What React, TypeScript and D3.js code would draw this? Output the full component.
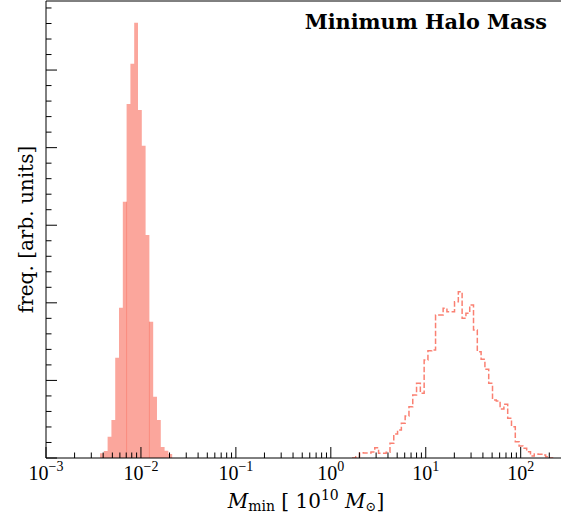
import React from "react";
import * as d3 from "d3";

const W = 561;
const H = 514;

// Narrow (filled) distribution: bin edges in units of 10^10 Msun and frequencies
const filledEdges = [
  0.003707, 0.004064, 0.004457, 0.004887, 0.005358, 0.005875, 0.006442, 0.007063,
  0.007745, 0.008492, 0.009311, 0.010209, 0.011194, 0.012274, 0.013458, 0.014757,
  0.016181, 0.017742, 0.019454, 0.02133,
];
const filledFreq = [
  0.3, 0.45, 1.37, 2.45, 6.46, 9.68, 16.51, 22.81, 25.41, 28.05, 22.42, 20.12, 14.37,
  8.78, 3.95, 2.45, 0.71, 0.47, 0.26,
];

// Broad (dashed step) distribution
const dashedEdges = [
  1.671, 1.832, 2.009, 2.203, 2.415, 2.649, 2.904, 3.184, 3.491, 3.828, 4.198, 4.603,
  5.047, 5.534, 6.067, 6.653, 7.295, 7.998, 8.77, 9.616, 10.54, 11.56, 12.68, 13.9,
  15.24, 16.71, 18.32, 20.09, 22.03, 24.15, 26.49, 29.04, 31.84, 34.91, 38.28, 41.98,
  46.03, 50.47, 55.34, 60.67, 66.53, 72.95, 79.98, 87.7, 96.16, 105.4, 115.6, 126.8,
  139.0, 152.4, 167.1, 183.2, 200.9, 220.3,
];
const dashedFreq = [
  0, 0.08, 0.34, 0.32, 0.32, 0.39, 0.66, 0.3, 0.3, 0.37, 0.95, 1.55, 1.8, 2.24, 2.71,
  3.31, 4.06, 4.81, 4.17, 6.31, 6.91, 6.96, 9.21, 9.21, 9.65, 9.43, 9.43, 10.07, 10.72,
  9.0, 9.32, 9.86, 8.25, 6.85, 6.36, 5.72, 4.81, 3.74, 3.67, 3.16, 3.46, 2.56, 2.02,
  1.05, 0.77, 0.63, 0.41, 0.13, 0.26, 0.24, 0.19, 0.08, 0,
];

// Axes
const xDomain = [1e-3, 3e2];
const yDomain = [0, 29.45];
const xMajorTicks = [1e-3, 1e-2, 1e-1, 1e0, 1e1, 1e2];
const xTickExponents = ["\u22123", "\u22122", "\u22121", "0", "1", "2"];
const yMajorEvery = 5;
const yMinorStep = 1;
// bin edges of the filled histogram where bars overlap (drawn darker)
const overlapEdges = [7, 13];

const title = "Minimum Halo Mass";

const left = 46;
const right = 566;
const top = 1;
const bottom = 458;

const SALMON = "#fa8072";

function stepPoints(edges: number[], freq: number[], x: any, y: any) {
  const pts: [number, number][] = [];
  pts.push([x(edges[0]), y(0)]);
  freq.forEach((f, i) => {
    pts.push([x(edges[i]), y(f)]);
    pts.push([x(edges[i + 1]), y(f)]);
  });
  pts.push([x(edges[edges.length - 1]), y(0)]);
  return pts;
}

export default function App() {
  const x = d3.scaleLog().domain(xDomain).range([left, right]);
  const y = d3.scaleLinear().domain(yDomain).range([bottom, top]);

  const minorX = x
    .ticks()
    .filter((t) => !xMajorTicks.some((m) => Math.abs(m - t) / m < 1e-6));
  const yTicks = d3.range(0, yDomain[1], yMinorStep);

  const line = d3.line();
  const filledPath = (line(stepPoints(filledEdges, filledFreq, x, y)) || "") + "Z";
  const stepPath = line(stepPoints(dashedEdges, dashedFreq, x, y)) || "";

  const tickFont = "'Liberation Serif', 'Times New Roman', serif";
  const labelFont = "'DejaVu Serif', serif";

  return (
    <svg
      width={W}
      height={H}
      style={{ position: "absolute", left: 0, top: 0, background: "#fff" }}
    >
      <defs>
        <clipPath id="plot">
          <rect x={left} y={top} width={right - left} height={bottom - top} />
        </clipPath>
      </defs>
      <rect x={0} y={0} width={W} height={H} fill="#fff" />
      <g clipPath="url(#plot)">
        <path d={filledPath} fill={SALMON} fillOpacity={0.7} stroke="none" />
        {overlapEdges.map((k) => {
          const h = Math.min(filledFreq[k - 1], filledFreq[k]);
          return (
            <rect
              key={"o" + k}
              x={x(filledEdges[k]) - 0.5}
              y={y(h)}
              width={1}
              height={y(0) - y(h)}
              fill={SALMON}
              fillOpacity={0.7}
            />
          );
        })}
        <path
          d={stepPath}
          fill="none"
          stroke={SALMON}
          strokeWidth={1.5}
          strokeDasharray="5.5,2.4"
        />
      </g>
      {/* spines */}
      <g stroke="#000" strokeWidth={1} fill="none">
        <line x1={left} x2={right} y1={bottom} y2={bottom} />
        <line x1={left} x2={right} y1={top} y2={top} />
        <line x1={left} x2={left} y1={top} y2={bottom} />
        <line x1={right} x2={right} y1={top} y2={bottom} />
      </g>
      {/* ticks */}
      <g stroke="#000" strokeWidth={1}>
        {xMajorTicks.map((t) => (
          <line key={"M" + t} x1={x(t)} x2={x(t)} y1={bottom} y2={bottom - 11} />
        ))}
        {minorX.map((t) => (
          <line key={"m" + t} x1={x(t)} x2={x(t)} y1={bottom} y2={bottom - 5.5} />
        ))}
        {yTicks.map((t) => (
          <line
            key={"y" + t}
            x1={left}
            x2={left + (t % yMajorEvery === 0 ? 11 : 5.5)}
            y1={y(t)}
            y2={y(t)}
          />
        ))}
      </g>
      {/* x tick labels */}
      {xMajorTicks.map((t, i) => (
        <text
          key={"l" + t}
          x={x(t)}
          y={479.5}
          textAnchor="middle"
          fontFamily={tickFont}
          fontSize={20}
          fill="#000"
        >
          10
          <tspan fontSize={14} dy={-8.5}>
            {xTickExponents[i]}
          </tspan>
        </text>
      ))}
      {/* x label */}
      <text
        x={(left + right) / 2}
        y={507.5}
        textAnchor="middle"
        fontFamily={labelFont}
        fontSize={20}
        fill="#000"
      >
        <tspan fontStyle="italic">M</tspan>
        <tspan fontSize={14} dy={3}>min</tspan>
        <tspan dy={-3}>{"\u00a0[\u00a010"}</tspan>
        <tspan fontSize={14} dy={-8}>10</tspan>
        <tspan dy={8}>{"\u00a0"}</tspan>
        <tspan fontStyle="italic">M</tspan>
        <tspan fontSize={13} dy={3}>{"\u2299"}</tspan>
        <tspan dy={-3}>]</tspan>
      </text>
      {/* y label */}
      <text
        transform={`translate(33, ${(top + bottom) / 2}) rotate(-90)`}
        textAnchor="middle"
        fontFamily={labelFont}
        fontSize={20}
        fill="#000"
      >
        freq. [arb. units]
      </text>
      {/* title */}
      <text
        x={547}
        y={29}
        textAnchor="end"
        fontFamily={labelFont}
        fontWeight="bold"
        fontSize={20.8}
        fill="#000"
      >
        {title}
      </text>
    </svg>
  );
}
